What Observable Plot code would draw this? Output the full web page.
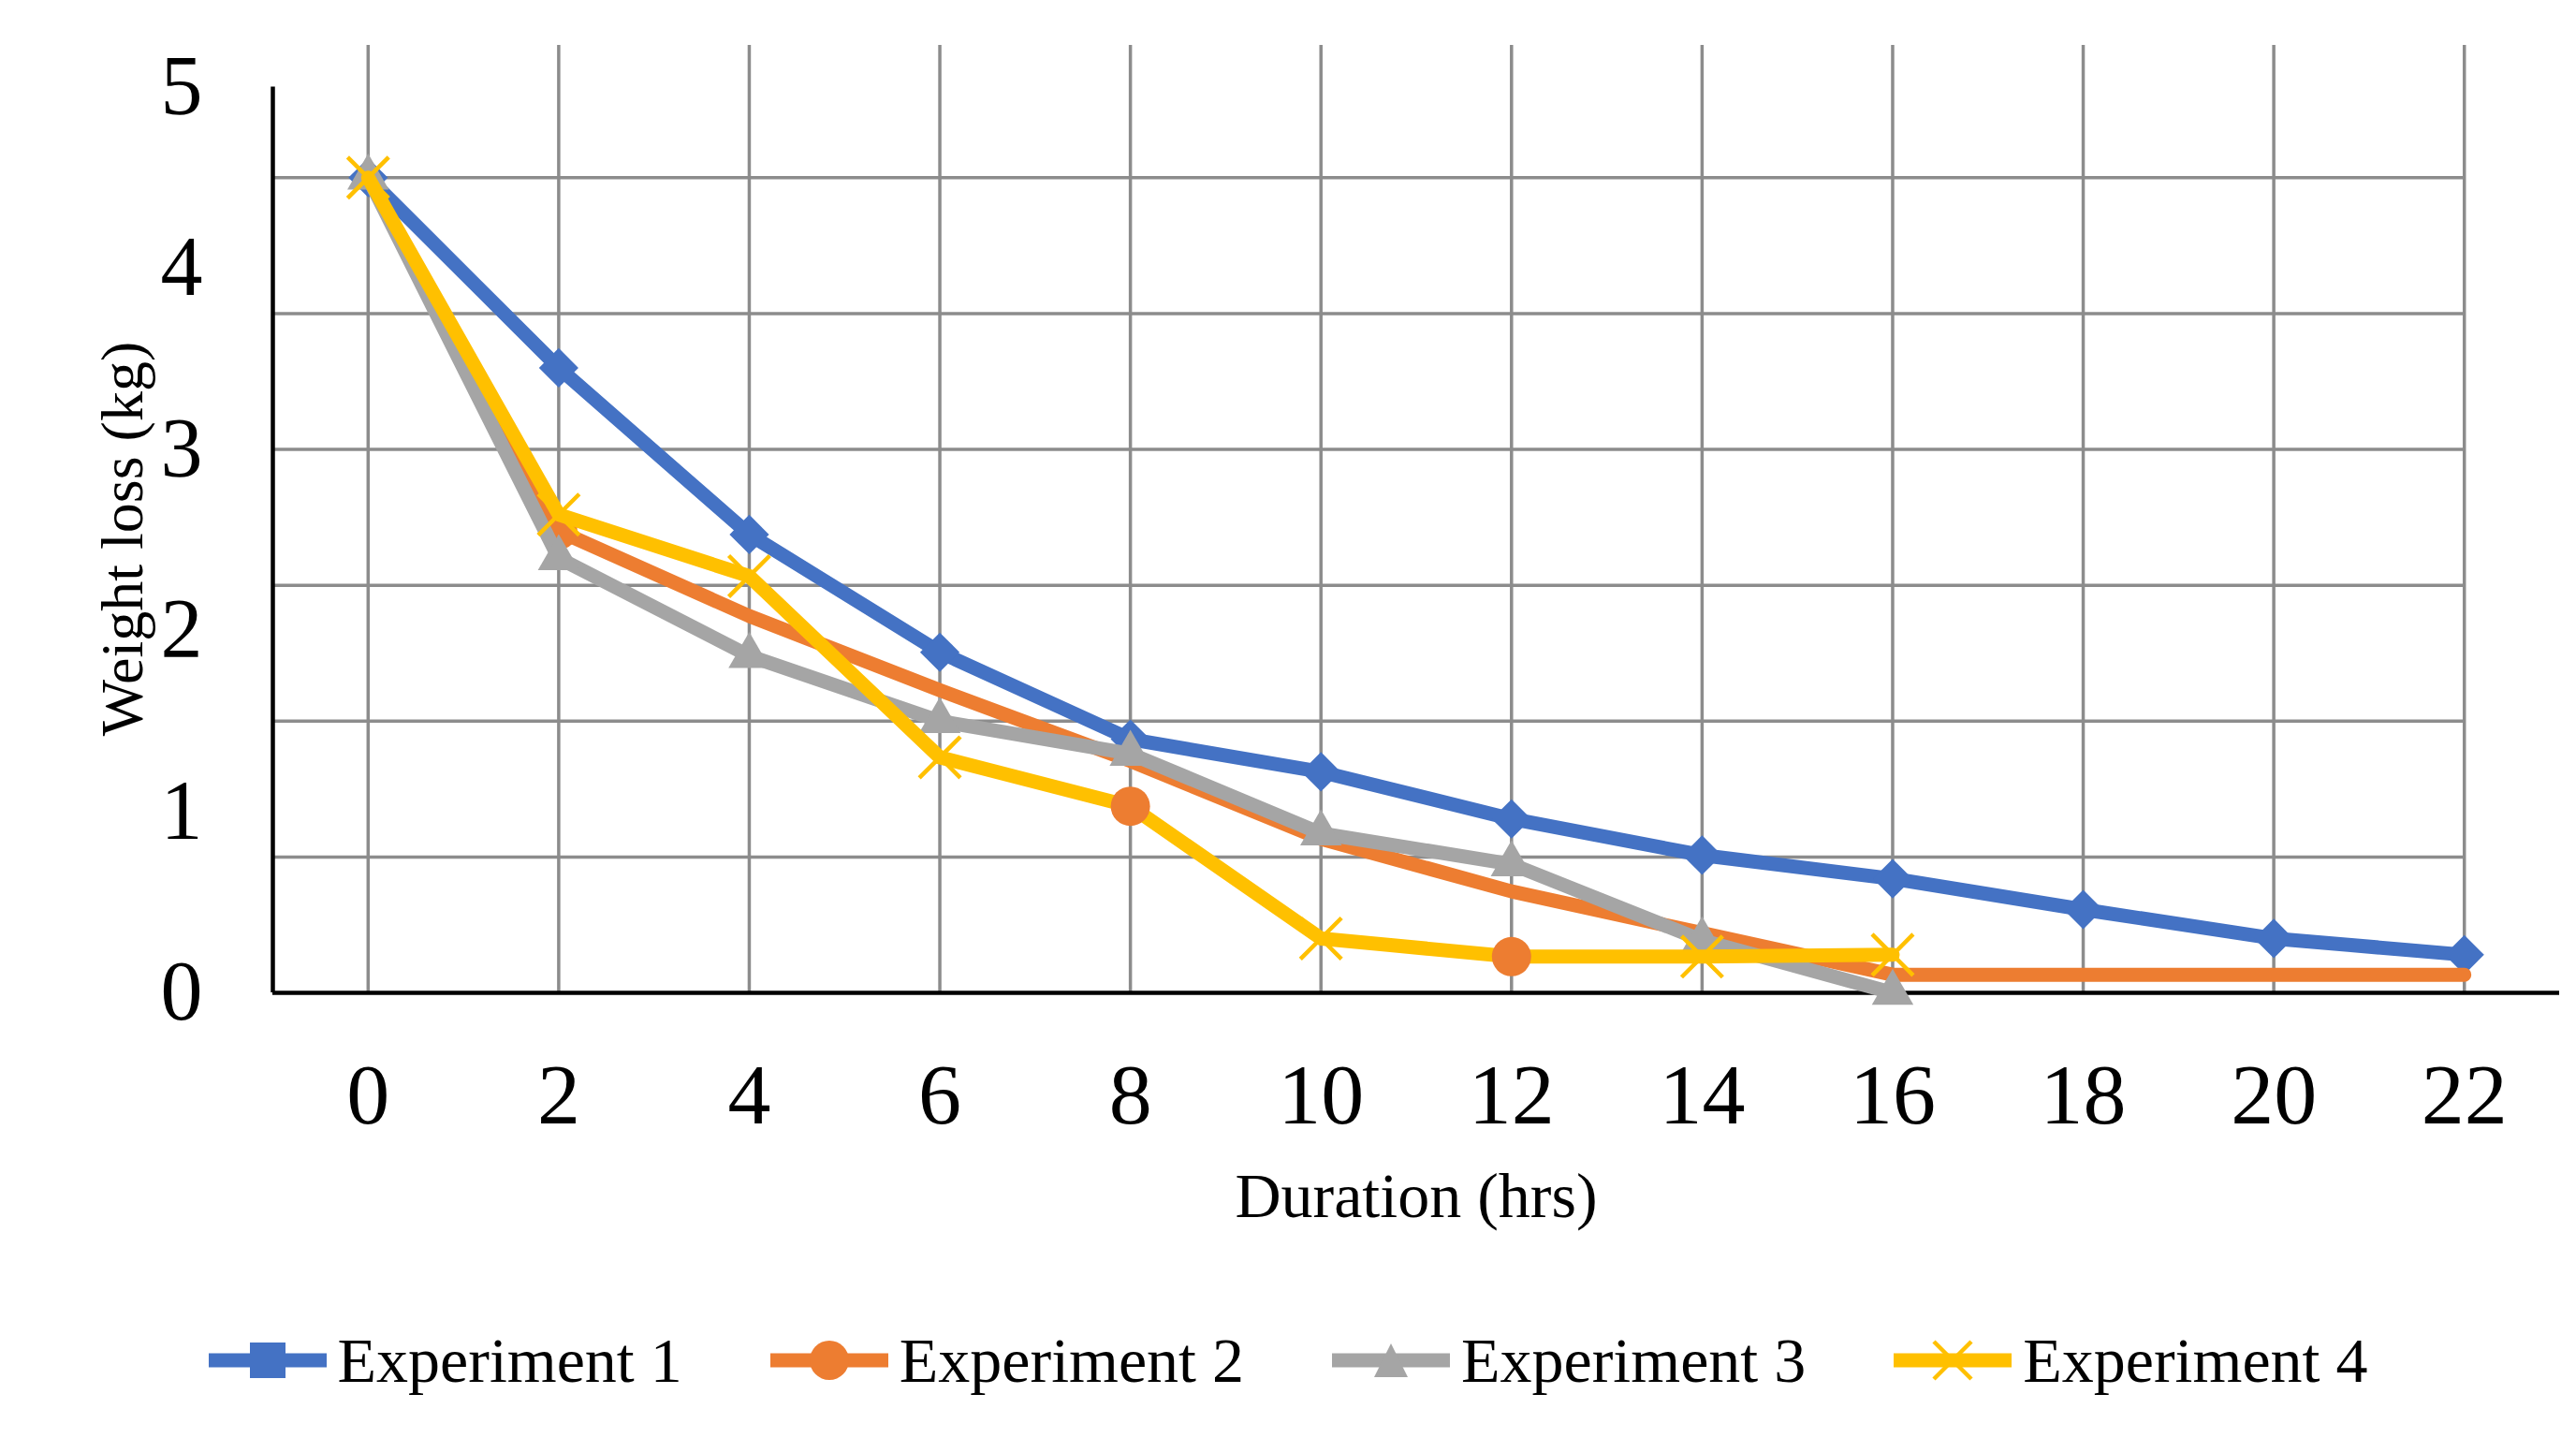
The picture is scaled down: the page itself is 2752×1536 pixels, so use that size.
<!DOCTYPE html>
<html><head><meta charset="utf-8">
<script src="https://cdn.jsdelivr.net/npm/d3@7"></script>
<script src="https://cdn.jsdelivr.net/npm/@observablehq/plot@0.6"></script>
<style>
html,body{margin:0;padding:0;background:#fff;}
#chart{width:2752px;}
.legend{display:flex;justify-content:center;align-items:center;gap:94px;height:100px;margin-top:63px;font-family:"Liberation Serif","Times New Roman",serif;font-size:68px;color:#000;}
.item{display:flex;align-items:center;gap:12px;}
.item svg{display:block;}
</style></head><body><div id="chart"></div><script>
// ---- data ----
const hours = [0, 2, 4, 6, 8, 10, 12, 14, 16, 18, 20, 22];
const exp1 = [4.50, 3.45, 2.53, 1.88, 1.40, 1.22, 0.96, 0.76, 0.63, 0.46, 0.30, 0.21];
const exp2 = [4.50, 2.55, 2.08, 1.67, 1.28, 0.85, 0.56, 0.33, 0.10, 0.10, 0.10, 0.10];
const exp3 = [4.50, 2.40, 1.86, 1.50, 1.32, 0.88, 0.71, 0.29, 0.00];
const exp4 = [4.50, 2.64, 2.30, 1.30, 1.03, 0.30, 0.20, 0.20, 0.21];
const exp2MarkerHours = [2];        // orange circle visible on Experiment 2's line
const exp4CircleHours = [8, 12];    // orange circles drawn on Experiment 4's line
const seriesNames = ["Experiment 1", "Experiment 2", "Experiment 3", "Experiment 4"];
const colors = ["#4472C4", "#ED7D31", "#A5A5A5", "#FFC000"];
const yTicks = [0, 1, 2, 3, 4, 5];
const yGrid = [0.75, 1.5, 2.25, 3, 3.75, 4.5];
const xLabel = "Duration (hrs)";
const yLabel = "Weight loss (kg)";

const rows = (vals, name) => vals.map((v, i) => ({series: name, hour: hours[i], value: v}));
const r1 = rows(exp1, seriesNames[0]);
const r2 = rows(exp2, seriesNames[1]);
const r3 = rows(exp3, seriesNames[2]);
const r4 = rows(exp4, seriesNames[3]);
const r2m = r2.filter(d => exp2MarkerHours.includes(d.hour));
const r4x = r4.filter(d => !exp4CircleHours.includes(d.hour));
const r4c = r4.filter(d => exp4CircleHours.includes(d.hour));

const gridColor = "#8c8c8c";
const lw = 15;

const plot = Plot.plot({
  width: 2752, height: 1340,
  marginTop: 48, marginBottom: 280, marginLeft: 291, marginRight: 18,
  x: {domain: [-1, 23]},
  y: {domain: [0, 5.23]},
  style: {fontFamily: "'Liberation Serif', 'Times New Roman', serif", background: "white", color: "black"},
  marks: [
    Plot.ruleX(hours, {y1: 0, y2: 5.23, stroke: gridColor, strokeWidth: 3.5}),
    Plot.ruleY(yGrid, {x1: -1, x2: 22, stroke: gridColor, strokeWidth: 3.5}),
    Plot.ruleX([-1], {y1: 0, y2: 5, stroke: "black", strokeWidth: 4.5}),
    Plot.ruleY([0], {x1: -1, x2: 23, stroke: "black", strokeWidth: 4.5}),
    Plot.axisX({ticks: hours, tickSize: 0, tickPadding: 74, fontSize: 92, label: null, tickFormat: d3.format("d")}),
    Plot.axisY({ticks: yTicks, tickSize: 0, tickPadding: 75, fontSize: 90, label: null, tickFormat: d3.format("d")}),
    // Experiment 1
    Plot.line(r1, {x: "hour", y: "value", stroke: colors[0], strokeWidth: lw, strokeLinejoin: "round"}),
    Plot.dot(r1, {x: "hour", y: "value", symbol: "diamond2", r: 19, fill: colors[0], stroke: "none"}),
    // Experiment 2
    Plot.line(r2, {x: "hour", y: "value", stroke: colors[1], strokeWidth: lw, strokeLinejoin: "round"}),
    Plot.dot(r2m, {x: "hour", y: "value", symbol: "circle", r: 20, fill: colors[1], stroke: "none"}),
    // Experiment 3
    Plot.line(r3, {x: "hour", y: "value", stroke: colors[2], strokeWidth: lw, strokeLinejoin: "round"}),
    Plot.dot(r3, {x: "hour", y: "value", symbol: "triangle", r: 16.5, fill: colors[2], stroke: "none"}),
    // Experiment 4
    Plot.line(r4, {x: "hour", y: "value", stroke: colors[3], strokeWidth: lw, strokeLinejoin: "round"}),
    Plot.dot(r4x, {x: "hour", y: "value", symbol: "times", r: 20, stroke: colors[3], strokeWidth: 4.5, fill: "none"}),
    Plot.dot(r4c, {x: "hour", y: "value", symbol: "circle", r: 21, fill: colors[1], stroke: "none"}),
    // axis titles
    Plot.text([xLabel], {text: d => d, frameAnchor: "bottom", dy: 218, fontSize: 68, lineAnchor: "middle", textAnchor: "middle"}),
    Plot.text([yLabel], {text: d => d, frameAnchor: "left", dx: -160, dy: 21, rotate: -90, fontSize: 64, textAnchor: "middle", lineAnchor: "middle"})
  ]
});
document.getElementById("chart").appendChild(plot);

// ---- legend ----
const legend = d3.select("#chart").append("div").attr("class", "legend");
const markerKinds = ["square", "circle", "triangle", "times"];
seriesNames.forEach((name, i) => {
  const item = legend.append("div").attr("class", "item");
  const svg = item.append("svg").attr("width", 126).attr("height", 50);
  svg.append("line").attr("x1", 0).attr("x2", 126).attr("y1", 25).attr("y2", 25)
    .attr("stroke", colors[i]).attr("stroke-width", lw);
  const k = markerKinds[i];
  if (k === "square") svg.append("rect").attr("x", 63 - 19).attr("y", 6).attr("width", 38).attr("height", 38).attr("fill", colors[i]);
  if (k === "circle") svg.append("circle").attr("cx", 63).attr("cy", 25).attr("r", 21).attr("fill", colors[i]);
  if (k === "triangle") svg.append("path").attr("d", "M63,7 L81,43 L45,43 Z").attr("fill", colors[i]);
  if (k === "times") svg.append("path").attr("d", "M43,5 L83,45 M83,5 L43,45").attr("stroke", colors[i]).attr("stroke-width", 4.5).attr("fill", "none");
  item.append("span").text(name);
});
</script></body></html>
